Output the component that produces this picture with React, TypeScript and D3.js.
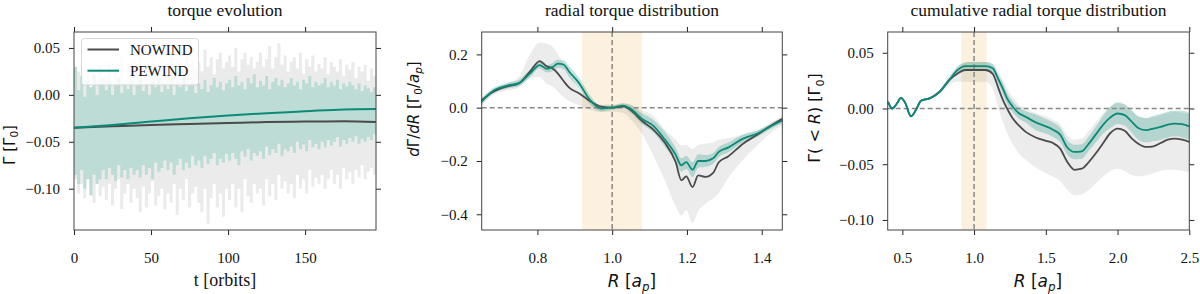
import React, { useEffect, useRef } from "react";
import * as d3 from "d3";

// ---------- panel 1: torque evolution ----------
const T_RAW = d3.range(0, 196, 2);
const NOWIND_HI = [
  0.012, 0.025, 0.005, 0.018, 0.028, 0.008, 0.02, 0.015, 0.03, 0.01,
  0.022, 0.035, 0.012, 0.028, 0.018, 0.04, 0.015, 0.03, 0.02, 0.038,
  0.025, 0.045, 0.018, 0.032, 0.022, 0.04, 0.028, 0.015, 0.035, 0.025,
  0.03, 0.042, 0.02, 0.036, 0.025, 0.03, 0.045, 0.022, 0.038, 0.028,
  0.035, 0.025, 0.048, 0.03, 0.04, 0.022, 0.038, 0.045, 0.028, 0.035,
  0.042, 0.03, 0.05, 0.025, 0.038, 0.045, 0.032, 0.04, 0.028, 0.035,
  0.045, 0.03, 0.038, 0.052, 0.028, 0.04, 0.055, 0.032, 0.042, 0.025,
  0.035, 0.04, 0.028, 0.045, 0.022, 0.038, 0.03, 0.042, 0.025, 0.033,
  0.028, 0.04, 0.022, 0.035, 0.03, 0.025, 0.038, 0.02, 0.032, 0.027,
  0.035, 0.018, 0.03, 0.025, 0.032, 0.015, 0.028, 0.02,
];
const NOWIND_LO = [
  -0.09, -0.105, -0.095, -0.11, -0.088, -0.1, -0.115, -0.092, -0.108, -0.098,
  -0.112, -0.095, -0.118, -0.1, -0.09, -0.122, -0.105, -0.095, -0.115, -0.1,
  -0.11, -0.125, -0.098, -0.12, -0.105, -0.092, -0.118, -0.108, -0.1, -0.122,
  -0.105, -0.115, -0.095, -0.128, -0.1, -0.112, -0.09, -0.12, -0.105, -0.098,
  -0.115, -0.125, -0.1, -0.137, -0.11, -0.095, -0.12, -0.105, -0.13, -0.1,
  -0.112, -0.095, -0.12, -0.1, -0.125, -0.09, -0.108, -0.115, -0.095, -0.105,
  -0.1, -0.118, -0.09, -0.108, -0.095, -0.112, -0.085, -0.1, -0.092, -0.105,
  -0.095, -0.11, -0.085, -0.1, -0.09, -0.105, -0.08, -0.098, -0.088, -0.095,
  -0.085, -0.1, -0.09, -0.08, -0.095, -0.085, -0.1, -0.078, -0.09, -0.082,
  -0.095, -0.08, -0.088, -0.075, -0.09, -0.082, -0.078, -0.085,
];
const PEWIND_HI = [
  0.03, 0.005, 0.02, -0.002, 0.015, 0.008, 0.022, 0.0, 0.012, 0.018,
  0.005, 0.015, 0.0, 0.01, 0.018, 0.002, 0.012, 0.006, 0.015, 0.0,
  0.01, 0.016, 0.004, 0.012, 0.0, 0.014, 0.008, 0.018, 0.003, 0.01,
  0.006, 0.015, 0.0, 0.012, 0.008, 0.018, 0.004, 0.01, 0.014, 0.002,
  0.012, 0.006, 0.016, 0.003, 0.01, 0.018, 0.008, 0.014, 0.005, 0.012,
  0.016, 0.008, 0.02, 0.01, 0.014, 0.006, 0.018, 0.012, 0.022, 0.008,
  0.015, 0.01, 0.02, 0.006, 0.014, 0.018, 0.01, 0.016, 0.008, 0.012,
  0.018, 0.01, 0.014, 0.006, 0.016, 0.012, 0.02, 0.008, 0.014, 0.01,
  0.012, 0.018, 0.008, 0.014, 0.01, 0.016, 0.006, 0.012, 0.009, 0.014,
  0.01, 0.006, 0.012, 0.004, 0.01, 0.007, 0.003, 0.008,
];
const PEWIND_LO = [
  -0.085, -0.095, -0.08, -0.1, -0.09, -0.107, -0.085, -0.095, -0.09, -0.08,
  -0.09, -0.078, -0.085, -0.092, -0.075, -0.088, -0.08, -0.09, -0.078, -0.085,
  -0.08, -0.088, -0.075, -0.085, -0.078, -0.09, -0.072, -0.082, -0.078, -0.07,
  -0.08, -0.072, -0.085, -0.075, -0.068, -0.08, -0.072, -0.078, -0.065, -0.075,
  -0.07, -0.078, -0.065, -0.074, -0.068, -0.062, -0.075, -0.068, -0.072, -0.063,
  -0.07, -0.062, -0.068, -0.075, -0.06, -0.066, -0.058, -0.07, -0.062, -0.065,
  -0.06, -0.068, -0.055, -0.064, -0.058, -0.062, -0.052, -0.065, -0.058, -0.06,
  -0.055, -0.062, -0.05, -0.058, -0.053, -0.06, -0.048, -0.056, -0.052, -0.058,
  -0.05, -0.056, -0.048, -0.054, -0.05, -0.045, -0.055, -0.048, -0.052, -0.046,
  -0.05, -0.044, -0.052, -0.047, -0.05, -0.045, -0.048, -0.042,
];
const T_MEAN = [0, 25, 50, 75, 100, 125, 150, 175, 196];
const NOWIND_MEAN = [-0.035, -0.0335, -0.032, -0.031, -0.030, -0.029, -0.0285, -0.028, -0.029];
const PEWIND_MEAN = [-0.035, -0.032, -0.0285, -0.025, -0.022, -0.0195, -0.0175, -0.0155, -0.015];

// ---------- panel 2: radial torque distribution ----------
const R2 = [0.65, 0.68, 0.72, 0.75, 0.78, 0.806, 0.825, 0.84, 0.855, 0.87, 0.885, 0.91, 0.94, 0.97, 1.0, 1.03, 1.05, 1.08, 1.11, 1.14, 1.17, 1.185, 1.198, 1.215, 1.23, 1.25, 1.27, 1.285, 1.31, 1.35, 1.39, 1.42, 1.455];
const NOW2 = [0.027, 0.058, 0.08, 0.091, 0.135, 0.175, 0.155, 0.148, 0.128, 0.1, 0.075, 0.055, 0.025, 0.004, 0.0, 0.005, -0.01, -0.05, -0.082, -0.13, -0.205, -0.272, -0.258, -0.298, -0.254, -0.26, -0.245, -0.205, -0.183, -0.135, -0.1, -0.072, -0.042];
const NOW2_HI = [0.04, 0.065, 0.09, 0.115, 0.2, 0.245, 0.24, 0.23, 0.2, 0.165, 0.13, 0.07, 0.03, 0.012, 0.012, 0.018, 0.012, -0.01, -0.03, -0.08, -0.12, -0.14, -0.14, -0.155, -0.14, -0.135, -0.13, -0.12, -0.115, -0.1, -0.083, -0.06, -0.03];
const NOW2_LO = [0.01, 0.045, 0.065, 0.075, 0.11, 0.115, 0.09, 0.08, 0.06, 0.04, 0.025, 0.01, -0.008, -0.016, -0.015, -0.02, -0.045, -0.098, -0.18, -0.27, -0.37, -0.405, -0.385, -0.432, -0.39, -0.36, -0.34, -0.32, -0.265, -0.195, -0.14, -0.1, -0.065];
const PE2 = [0.022, 0.062, 0.083, 0.092, 0.128, 0.16, 0.146, 0.152, 0.165, 0.162, 0.135, 0.095, 0.03, -0.003, 0.0, 0.008, -0.005, -0.042, -0.068, -0.118, -0.177, -0.216, -0.204, -0.233, -0.2, -0.2, -0.19, -0.166, -0.15, -0.116, -0.096, -0.073, -0.048];
const PE2_HI = [0.032, 0.072, 0.094, 0.104, 0.142, 0.172, 0.16, 0.168, 0.18, 0.178, 0.155, 0.115, 0.048, 0.008, 0.008, 0.016, 0.01, -0.022, -0.045, -0.09, -0.15, -0.19, -0.18, -0.205, -0.175, -0.178, -0.17, -0.148, -0.132, -0.102, -0.085, -0.063, -0.038];
const PE2_LO = [0.012, 0.052, 0.072, 0.08, 0.114, 0.148, 0.132, 0.136, 0.15, 0.145, 0.115, 0.075, 0.014, -0.014, -0.008, 0.0, -0.02, -0.062, -0.092, -0.145, -0.205, -0.24, -0.23, -0.26, -0.225, -0.222, -0.21, -0.185, -0.168, -0.13, -0.108, -0.083, -0.058];

// ---------- panel 3: cumulative radial torque ----------
const R3 = [0.4, 0.43, 0.46, 0.49, 0.52, 0.56, 0.6, 0.63, 0.69, 0.76, 0.83, 0.88, 0.94, 1.0, 1.08, 1.13, 1.17, 1.2, 1.23, 1.27, 1.31, 1.36, 1.43, 1.5, 1.55, 1.6, 1.65, 1.7, 1.75, 1.8, 1.85, 1.9, 1.95, 2.0, 2.05, 2.1, 2.15, 2.2, 2.25, 2.3, 2.35, 2.4, 2.45, 2.5];
const NOW3 = [0.006, 0.0, 0.004, 0.0095, 0.005, -0.007, 0.0, 0.007, 0.009, 0.015, 0.026, 0.031, 0.0345, 0.0345, 0.0345, 0.031, 0.018, 0.008, 0.0, -0.009, -0.015, -0.021, -0.026, -0.029, -0.031, -0.036, -0.048, -0.055, -0.054, -0.048, -0.04, -0.031, -0.022, -0.018, -0.02, -0.027, -0.032, -0.0345, -0.034, -0.031, -0.028, -0.027, -0.028, -0.03];
const NOW3_HI = [0.007, 0.001, 0.005, 0.0105, 0.006, -0.006, 0.001, 0.008, 0.01, 0.017, 0.03, 0.037, 0.041, 0.042, 0.042, 0.04, 0.033, 0.026, 0.018, 0.01, 0.004, 0.0, -0.004, -0.007, -0.01, -0.014, -0.024, -0.028, -0.027, -0.02, -0.012, -0.004, 0.002, 0.006, 0.004, -0.002, -0.007, -0.009, -0.008, -0.006, -0.004, -0.003, -0.004, -0.005];
const NOW3_LO = [0.005, -0.001, 0.003, 0.0085, 0.004, -0.008, -0.001, 0.006, 0.008, 0.013, 0.021, 0.024, 0.024, 0.024, 0.024, 0.018, 0.0, -0.012, -0.022, -0.032, -0.04, -0.046, -0.053, -0.058, -0.061, -0.065, -0.073, -0.078, -0.077, -0.073, -0.067, -0.061, -0.056, -0.054, -0.056, -0.06, -0.061, -0.06, -0.058, -0.056, -0.055, -0.055, -0.056, -0.057];
const PE3 = [0.006, 0.0, 0.004, 0.0095, 0.005, -0.007, 0.0, 0.007, 0.009, 0.015, 0.026, 0.034, 0.038, 0.038, 0.038, 0.036, 0.026, 0.018, 0.009, 0.0015, -0.004, -0.0075, -0.0125, -0.016, -0.019, -0.0235, -0.035, -0.039, -0.0385, -0.0315, -0.023, -0.0145, -0.008, -0.0045, -0.006, -0.012, -0.018, -0.0195, -0.018, -0.0165, -0.0145, -0.0135, -0.014, -0.016];
const PE3_HI = [0.007, 0.001, 0.005, 0.0105, 0.006, -0.006, 0.001, 0.008, 0.01, 0.016, 0.028, 0.037, 0.0415, 0.0418, 0.0417, 0.0397, 0.03, 0.023, 0.014, 0.0065, 0.001, -0.0025, -0.0055, -0.0095, -0.0125, -0.017, -0.0285, -0.0325, -0.032, -0.025, -0.016, -0.0065, 0.0015, 0.005, 0.0035, -0.002, -0.0075, -0.0085, -0.0065, -0.005, -0.003, -0.002, -0.002, -0.004];
const PE3_LO = [0.005, -0.001, 0.003, 0.0085, 0.004, -0.008, -0.001, 0.006, 0.008, 0.014, 0.024, 0.031, 0.0343, 0.0342, 0.0343, 0.0323, 0.022, 0.013, 0.004, -0.0035, -0.009, -0.0125, -0.0195, -0.0225, -0.0255, -0.03, -0.0415, -0.0455, -0.045, -0.038, -0.03, -0.0225, -0.0175, -0.014, -0.0155, -0.022, -0.0285, -0.0305, -0.0295, -0.028, -0.026, -0.025, -0.026, -0.028];

const GAP_BAND = [0.92, 1.08];
const GAP_BAND3 = [0.912, 1.087];

const TEAL = "#0b8a77";
const DARK = "#4b4b4b";
const SERIF = "'Liberation Serif', 'Times New Roman', serif";
const SANS = "'DejaVu Sans', sans-serif";

type Sel = d3.Selection<SVGGElement, unknown, null, undefined>;

function frame(
  sel: Sel,
  x: d3.ScaleLinear<number, number>,
  y: d3.ScaleLinear<number, number>,
  xt: number[],
  yt: number[],
  xf: (v: number) => string,
  yf: (v: number) => string
) {
  const [x0, x1] = x.range();
  const [y0, y1] = y.range();
  const style = (g: Sel) => {
    g.select(".domain").remove();
    g.selectAll(".tick line").attr("stroke", "#222");
    g.selectAll(".tick text")
      .attr("fill", "#111")
      .style("font-family", SERIF)
      .style("font-size", "15px");
  };
  sel.append("g").attr("transform", `translate(0,${y0})`)
    .call(d3.axisBottom(x).tickValues(xt).tickSize(5).tickPadding(17).tickFormat(xf as any))
    .call(style);
  sel.append("g").attr("transform", `translate(0,${y1})`)
    .call(d3.axisTop(x).tickValues(xt).tickSize(5).tickFormat(() => ""))
    .call(style);
  sel.append("g").attr("transform", `translate(${x0},0)`)
    .call(d3.axisLeft(y).tickValues(yt).tickSize(5).tickPadding(9).tickFormat(yf as any))
    .call(style);
  sel.append("g").attr("transform", `translate(${x1},0)`)
    .call(d3.axisRight(y).tickValues(yt).tickSize(5).tickFormat(() => ""))
    .call(style);
  sel.append("rect")
    .attr("x", x0).attr("y", y1).attr("width", x1 - x0).attr("height", y0 - y1)
    .attr("fill", "none").attr("stroke", "#444").attr("stroke-width", 1);
}

function title(sel: Sel, x: d3.ScaleLinear<number, number>, txt: string) {
  const [x0, x1] = x.range();
  sel.append("text").attr("x", (x0 + x1) / 2).attr("y", 15.5)
    .attr("text-anchor", "middle").style("font-family", SERIF).style("font-size", "17.5px")
    .attr("fill", "#111").text(txt);
}

type Part = { t: string; it?: boolean; sub?: boolean };
function mathLabel(sel: Sel, x: number, y: number, parts: Part[], size: number, rotate: boolean) {
  const t = sel.append("text").attr("x", x).attr("y", y)
    .attr("text-anchor", "middle").style("font-family", SANS).style("font-size", `${size}px`)
    .attr("fill", "#111");
  if (rotate) t.attr("transform", `rotate(-90,${x},${y})`);
  let shifted = false;
  parts.forEach((p) => {
    const ts = t.append("tspan").text(p.t);
    if (p.it) ts.attr("font-style", "italic");
    if (p.sub) {
      ts.style("font-size", `${size * 0.7}px`);
      if (!shifted) { ts.attr("dy", size * 0.22); shifted = true; }
    } else if (shifted) {
      ts.attr("dy", -size * 0.22); shifted = false;
    }
  });
}

function bandPath(xs: number[], lo: number[], hi: number[], x: any, y: any) {
  return d3.area<number>()
    .x((_, i) => x(xs[i])).y0((_, i) => y(lo[i])).y1((_, i) => y(hi[i]))
    .curve(d3.curveMonotoneX)(xs) as string;
}
function linePath(xs: number[], ys: number[], x: any, y: any) {
  return d3.line<number>().x((_, i) => x(xs[i])).y((_, i) => y(ys[i]))
    .curve(d3.curveMonotoneX)(xs) as string;
}

export default function App() {
  const ref = useRef<SVGSVGElement | null>(null);

  useEffect(() => {
    const svg = d3.select(ref.current);
    svg.selectAll("*").remove();
    const root = svg.append("g") as unknown as Sel;
    const TOP = 32, BOT = 230;

    // ---- panel 1 ----
    {
      const x = d3.scaleLinear().domain([0, 196]).range([74, 376]);
      const y = d3.scaleLinear().domain([-0.144, 0.067]).range([BOT, TOP]);
      const g = root.append("g") as Sel;
      const ts = [...T_RAW, 196];
      const spiky = (hi: number[], lo: number[]) =>
        d3.area<number>()
          .x((t) => x(t))
          .y0((_, i) => y(lo[Math.min(i, lo.length - 1)]))
          .y1((_, i) => y(hi[Math.min(i, hi.length - 1)]))
          .curve(d3.curveStepAfter)(ts) as string;
      g.append("path").attr("d", spiky(NOWIND_HI, NOWIND_LO)).attr("fill", "#ebebeb");
      g.append("path").attr("d", spiky(PEWIND_HI, PEWIND_LO)).attr("fill", "#bedcd6");
      g.append("path").attr("d", linePath(T_MEAN, NOWIND_MEAN, x, y))
        .attr("fill", "none").attr("stroke", DARK).attr("stroke-width", 2);
      g.append("path").attr("d", linePath(T_MEAN, PEWIND_MEAN, x, y))
        .attr("fill", "none").attr("stroke", TEAL).attr("stroke-width", 2);

      // legend
      const lg = g.append("g");
      lg.append("rect").attr("x", 81.5).attr("y", 38.5).attr("width", 117).attr("height", 46.5)
        .attr("rx", 3).attr("fill", "#fff").attr("fill-opacity", 0.8)
        .attr("stroke", "#d6d6d6").attr("stroke-width", 1);
      [["NOWIND", DARK, 49.5], ["PEWIND", TEAL, 70.7]].forEach(([lab, c, yy]) => {
        lg.append("line").attr("x1", 87.5).attr("x2", 119).attr("y1", yy as number).attr("y2", yy as number)
          .attr("stroke", c as string).attr("stroke-width", 2);
        lg.append("text").attr("x", 130).attr("y", (yy as number) + 5.3)
          .style("font-family", SERIF).style("font-size", "15px").attr("fill", "#111").text(lab as string);
      });

      frame(g, x, y, [0, 50, 100, 150], [-0.1, -0.05, 0, 0.05], d3.format("d"), d3.format(".2f"));
      title(g, x, "torque evolution");
      g.append("text").attr("x", 225).attr("y", 286).attr("text-anchor", "middle")
        .style("font-family", SERIF).style("font-size", "18px").attr("fill", "#111").text("t [orbits]");
      mathLabel(g, 14.5, 145, [{ t: "Γ [Γ" }, { t: "0", sub: true }, { t: "]" }], 15, true);
    }

    // ---- panel 2 ----
    {
      const x = d3.scaleLinear().domain([0.651, 1.455]).range([481.7, 782.3]);
      const y = d3.scaleLinear().domain([-0.459, 0.284]).range([BOT, TOP]);
      const g = root.append("g") as Sel;
      g.append("rect").attr("x", x(GAP_BAND[0])).attr("y", TOP)
        .attr("width", x(GAP_BAND[1]) - x(GAP_BAND[0])).attr("height", BOT - TOP)
        .attr("fill", "#f5d9a8").attr("fill-opacity", 0.38);
      g.append("path").attr("d", bandPath(R2, NOW2_LO, NOW2_HI, x, y))
        .attr("fill", "#000").attr("fill-opacity", 0.075);
      g.append("path").attr("d", bandPath(R2, PE2_LO, PE2_HI, x, y))
        .attr("fill", TEAL).attr("fill-opacity", 0.25);
      g.append("line").attr("x1", x.range()[0]).attr("x2", x.range()[1]).attr("y1", y(0)).attr("y2", y(0))
        .attr("stroke", "#888").attr("stroke-width", 1.5).attr("stroke-dasharray", "5,3");
      g.append("line").attr("x1", x(1)).attr("x2", x(1)).attr("y1", TOP).attr("y2", BOT)
        .attr("stroke", "#888").attr("stroke-width", 1.5).attr("stroke-dasharray", "5,3");
      g.append("path").attr("d", linePath(R2, NOW2, x, y))
        .attr("fill", "none").attr("stroke", DARK).attr("stroke-width", 1.8);
      g.append("path").attr("d", linePath(R2, PE2, x, y))
        .attr("fill", "none").attr("stroke", TEAL).attr("stroke-width", 1.8);
      frame(g, x, y, [0.8, 1.0, 1.2, 1.4], [-0.4, -0.2, 0, 0.2], d3.format(".1f"), d3.format(".1f"));
      title(g, x, "radial torque distribution");
      mathLabel(g, 632, 287, [{ t: "R", it: true }, { t: " [" }, { t: "a", it: true }, { t: "p", it: true, sub: true }, { t: "]" }], 17, false);
      mathLabel(g, 419, 109, [
        { t: "d", it: true }, { t: "Γ/" }, { t: "dR", it: true }, { t: " [Γ" }, { t: "0", sub: true },
        { t: "/" }, { t: "a", it: true }, { t: "p", it: true, sub: true }, { t: "]" },
      ], 15, true);
    }

    // ---- panel 3 ----
    {
      const x = d3.scaleLinear().domain([0.398, 2.5]).range([887.7, 1189.3]);
      const y = d3.scaleLinear().domain([-0.109, 0.0686]).range([BOT, TOP]);
      const g = root.append("g") as Sel;
      g.append("rect").attr("x", x(GAP_BAND3[0])).attr("y", TOP)
        .attr("width", x(GAP_BAND3[1]) - x(GAP_BAND3[0])).attr("height", BOT - TOP)
        .attr("fill", "#f5d9a8").attr("fill-opacity", 0.38);
      g.append("path").attr("d", bandPath(R3, NOW3_LO, NOW3_HI, x, y))
        .attr("fill", "#000").attr("fill-opacity", 0.075);
      g.append("path").attr("d", bandPath(R3, PE3_LO, PE3_HI, x, y))
        .attr("fill", TEAL).attr("fill-opacity", 0.25);
      g.append("line").attr("x1", x.range()[0]).attr("x2", x.range()[1]).attr("y1", y(0)).attr("y2", y(0))
        .attr("stroke", "#888").attr("stroke-width", 1.5).attr("stroke-dasharray", "5,3");
      g.append("line").attr("x1", x(1)).attr("x2", x(1)).attr("y1", TOP).attr("y2", BOT)
        .attr("stroke", "#888").attr("stroke-width", 1.5).attr("stroke-dasharray", "5,3");
      g.append("path").attr("d", linePath(R3, NOW3, x, y))
        .attr("fill", "none").attr("stroke", DARK).attr("stroke-width", 1.8);
      g.append("path").attr("d", linePath(R3, PE3, x, y))
        .attr("fill", "none").attr("stroke", TEAL).attr("stroke-width", 1.8);
      frame(g, x, y, [0.5, 1.0, 1.5, 2.0, 2.5], [-0.1, -0.05, 0, 0.05], d3.format(".1f"), d3.format(".2f"));
      title(g, x, "cumulative radial torque distribution");
      mathLabel(g, 1038, 287, [{ t: "R", it: true }, { t: " [" }, { t: "a", it: true }, { t: "p", it: true, sub: true }, { t: "]" }], 17, false);
      mathLabel(g, 820, 118, [
        { t: "Γ(" }, { t: " < " }, { t: "R", it: true }, { t: ") [Γ" }, { t: "0", sub: true }, { t: "]" },
      ], 16, true);
    }
  }, []);

  return (
    <svg
      ref={ref}
      width={1200}
      height={294}
      style={{ position: "absolute", left: 0, top: 0, background: "#fff" }}
    />
  );
}
